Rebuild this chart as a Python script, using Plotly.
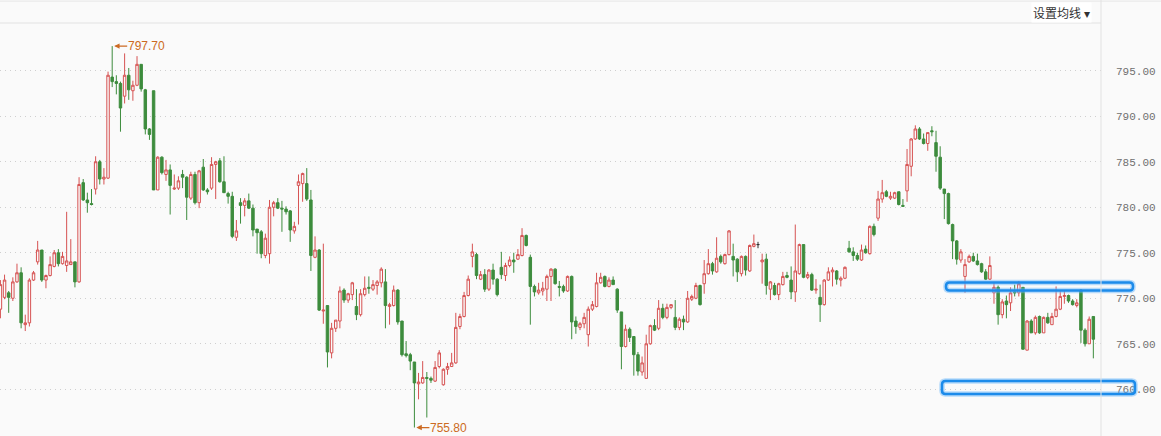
import plotly.graph_objects as go

# OHLC values (one entry per candle, left to right)
open_ = [768.8, 770.1, 770.6, 770.0, 771.8, 772.8, 767.1, 767.3, 772.0, 774.0,
         775.3, 772.0, 772.5, 773.5, 775.0, 773.8, 773.6, 773.7, 774.0, 771.8,
         782.7, 780.8, 780.4, 782.0, 785.0, 783.1, 783.2, 794.3, 793.8, 793.6,
         792.2, 794.5, 792.8, 793.4, 795.7, 792.9, 788.6, 792.8, 781.9, 785.5,
         783.6, 784.1, 782.0, 782.1, 783.6, 783.3, 781.0, 783.6, 780.5, 784.4,
         781.9, 782.1, 784.7, 785.1, 782.8,
         781.5, 781.2, 776.7, 780.5, 780.2, 780.7, 779.9, 777.6, 777.3, 774.7,
         774.9, 780.0, 780.5, 779.9, 779.8, 779.6, 777.4, 782.4, 782.6, 782.6,
         780.8, 774.5, 775.3, 768.6, 769.2, 764.0, 766.7, 767.5, 770.9, 769.8,
         770.4, 769.1, 768.2, 770.4, 771.2, 771.0, 771.4, 771.7, 771.8, 769.1,
         769.2, 770.9, 767.5, 763.9, 763.8, 763.0, 760.6, 760.7, 761.3, 761.2,
         760.9, 762.5,
         760.5, 762.2, 762.5, 762.9, 766.9, 768.0, 770.3, 774.6, 774.8, 772.1,
         772.6, 771.0, 773.1, 772.1, 773.4, 772.5, 773.6, 774.2, 774.3, 774.7,
         776.9, 774.5, 771.3, 770.6, 770.8, 771.0, 772.4, 773.2, 771.3, 771.3,
         770.8, 772.4, 767.5, 766.8, 767.2, 766.0, 768.8, 769.1, 771.7, 772.4,
         771.3, 772.0, 771.0, 768.5, 764.7, 766.6, 765.8, 763.8, 761.9, 761.2,
         765.0, 767.0,
         766.7, 768.9, 767.9, 769.0, 767.9, 766.8, 767.7, 767.4, 769.9, 770.0,
         771.4, 771.6, 772.7, 773.8, 772.9, 774.6, 773.8, 774.8, 774.6, 774.3,
         772.7, 774.6, 773.0, 775.7, 775.9, 774.0, 774.3, 771.0, 771.4, 770.4,
         771.5, 772.5, 772.0, 770.7, 772.7, 775.9, 772.3, 772.6, 770.9, 770.1,
         769.3, 772.0, 772.9, 773.0, 772.0, 772.2, 775.5, 775.1, 774.7, 774.2,
         775.4, 774.9, 777.9,
         778.8, 780.9, 781.7, 781.0, 781.0, 781.7, 780.2, 781.8, 784.5, 787.5,
         788.6, 787.5, 787.0, 788.4, 787.1, 785.5, 782.0, 781.5, 778.1, 776.3,
         774.2, 772.4, 774.0, 774.6, 774.1, 773.8, 772.9, 772.1, 770.6, 771.2,
         768.2, 769.7, 769.5, 770.7, 770.6, 771.2, 764.3, 767.5, 766.2, 768.0,
         766.2, 767.9, 767.1, 768.0, 768.8, 770.2, 770.3, 769.7, 769.2, 770.9,
         766.5, 765.0, 768.0]
high = [772.0, 772.6, 770.8, 772.3, 773.8, 773.4, 768.2, 772.2, 773.0, 776.3,
        775.3, 772.6, 774.6, 775.3, 775.4, 775.1, 779.5, 776.5, 774.0, 783.3,
        783.1, 781.6, 782.0, 785.6, 785.2, 784.3, 794.9, 797.7, 794.5, 793.8,
        796.9, 795.3, 793.9, 796.6, 795.7, 793.0, 788.7, 792.8, 785.6, 785.6,
        785.2, 784.7, 783.6, 783.4, 784.1, 783.4, 783.9, 783.9, 784.1, 785.3,
        782.1, 785.5, 785.1, 785.4, 785.6,
        781.7, 781.7, 778.6, 781.0, 781.0, 781.5, 780.3, 777.6, 777.5, 777.1,
        780.8, 780.7, 781.0, 780.7, 780.1, 779.7, 778.4, 783.6, 783.8, 784.3,
        781.9, 776.8, 775.4, 776.0, 769.2, 767.3, 767.6, 771.3, 771.1, 770.6,
        771.8, 771.0, 771.0, 772.4, 772.4, 772.0, 772.0, 773.4, 773.2, 769.5,
        771.4, 771.0, 767.5, 765.3, 764.0, 763.0, 761.8, 763.1, 761.9, 761.4,
        763.1, 764.3,
        762.3, 762.9, 764.0, 768.4, 768.3, 770.7, 772.5, 776.0, 775.0, 773.0,
        773.2, 773.2, 773.8, 772.2, 775.1, 773.9, 774.6, 775.0, 775.4, 777.7,
        777.0, 774.8, 771.5, 771.7, 771.8, 772.6, 773.3, 773.3, 771.9, 771.5,
        772.5, 772.5, 768.0, 767.4, 768.4, 769.1, 769.7, 772.8, 772.8, 772.5,
        772.3, 772.4, 771.1, 768.5, 767.1, 766.8, 765.8, 764.1, 763.6, 766.0,
        767.1, 767.7,
        769.8, 769.4, 769.4, 769.3, 769.8, 767.9, 768.1, 770.8, 770.4, 771.7,
        771.5, 774.2, 775.4, 774.0, 776.7, 774.8, 774.9, 777.5, 776.0, 774.4,
        774.7, 774.7, 775.9, 777.0, 776.2, 774.9, 774.9, 771.9, 771.7, 771.7,
        772.9, 772.9, 773.5, 778.1, 776.0, 775.9, 772.9, 772.8, 772.1, 771.5,
        772.1, 773.4, 773.4, 773.1, 772.4, 773.5, 776.3, 775.6, 775.0, 775.9,
        775.8, 778.0, 778.2,
        781.8, 783.0, 781.9, 781.7, 781.7, 781.7, 780.9, 786.4, 787.6, 789.0,
        788.8, 788.1, 788.2, 788.9, 788.4, 786.7, 782.0, 781.6, 778.2, 776.4,
        775.4, 774.3, 774.8, 775.0, 774.9, 773.9, 773.2, 774.6, 771.8, 771.4,
        769.9, 770.3, 771.2, 771.5, 771.9, 771.2, 767.6, 767.7, 768.1, 768.1,
        768.0, 768.4, 768.4, 771.3, 770.8, 770.8, 770.4, 769.9, 769.9, 771.0,
        766.7, 768.0, 768.0]
low = [767.8, 769.9, 768.4, 769.7, 771.7, 766.7, 766.4, 766.9, 771.9, 773.7,
       771.8, 771.1, 772.4, 773.4, 773.5, 773.7, 772.9, 773.7, 771.2, 771.7,
       780.7, 779.4, 780.2, 781.4, 782.5, 782.5, 783.1, 793.2, 792.4, 788.3,
       791.4, 791.8, 791.7, 793.3, 792.7, 788.0, 787.4, 781.9, 781.9, 783.6,
       782.9, 779.2, 781.9, 781.9, 782.1, 778.6, 780.8, 780.3, 779.9, 781.8,
       781.4, 781.9, 780.9, 782.7, 781.6,
       780.4, 776.6, 776.3, 778.2, 779.0, 779.8, 776.8, 774.9, 774.4, 774.4,
       773.8, 779.0, 779.8, 777.3, 779.2, 776.2, 777.1, 778.1, 780.6, 780.7,
       773.0, 774.4, 768.6, 767.2, 762.4, 763.4, 766.3, 766.7, 769.5, 769.5,
       769.8, 767.6, 768.0, 770.2, 770.5, 770.8, 770.4, 771.2, 766.7, 767.1,
       769.1, 767.1, 763.6, 763.5, 762.1, 755.8, 758.9, 760.6, 756.9, 760.7,
       760.8, 762.3,
       760.4, 761.6, 762.5, 762.8, 766.6, 767.9, 770.2, 773.4, 772.1, 772.0,
       770.7, 770.8, 771.5, 770.2, 772.1, 771.9, 773.4, 772.8, 774.2, 774.6,
       775.7, 767.1, 770.2, 770.4, 770.3, 769.7, 769.7, 771.5, 770.2, 770.6,
       770.7, 765.5, 766.1, 766.5, 766.7, 764.7, 768.6, 769.0, 771.6, 771.2,
       771.2, 771.5, 768.4, 762.2, 764.6, 765.2, 761.5, 761.5, 761.5, 761.2,
       764.9, 766.4,
       766.5, 767.7, 767.7, 768.8, 766.5, 766.5, 766.5, 767.3, 769.7, 769.9,
       769.2, 770.5, 772.6, 772.6, 772.8, 773.8, 773.7, 774.7, 772.4, 771.8,
       772.4, 772.5, 772.9, 775.6, 775.5, 771.6, 770.4, 769.8, 770.3, 769.8,
       771.4, 772.2, 769.9, 769.6, 772.6, 772.2, 772.1, 770.8, 770.5, 767.4,
       769.2, 771.9, 771.3, 771.5, 771.3, 772.1, 775.0, 774.1, 774.1, 774.1,
       774.9, 774.8, 776.8,
       778.5, 780.5, 781.1, 780.8, 780.9, 780.2, 780.1, 780.6, 783.4, 787.4,
       787.4, 786.9, 786.2, 787.8, 783.9, 781.9, 778.7, 778.1, 774.3, 773.7,
       773.9, 770.6, 773.9, 774.0, 773.6, 772.8, 772.0, 772.0, 769.4, 767.1,
       767.8, 767.8, 768.6, 770.2, 770.2, 764.4, 764.3, 766.2, 766.0, 766.1,
       766.2, 767.2, 767.1, 767.9, 768.7, 769.4, 769.5, 769.2, 769.0, 765.1,
       764.7, 765.0, 763.4]
close = [771.5, 772.0, 770.1, 771.8, 772.8, 767.3, 767.3, 772.0, 772.8, 775.3,
         772.0, 772.5, 773.7, 775.0, 773.8, 774.6, 774.1, 774.0, 771.8, 782.5,
         780.8, 780.5, 780.3, 785.0, 783.1, 783.3, 794.5, 793.8, 793.6, 790.9,
         794.5, 792.9, 793.4, 795.7, 793.0, 788.6, 788.0, 781.9, 785.5, 783.8,
         784.1, 782.4, 782.1, 782.9, 783.3, 781.1, 783.6, 780.5, 784.0, 781.9,
         781.7, 784.7, 785.0, 782.8, 781.6,
         781.2, 776.8, 777.4, 780.2, 780.7, 779.9, 777.5, 777.2, 774.9, 776.6,
         780.0, 780.5, 779.9, 779.8, 779.5, 777.5, 777.9, 782.8, 783.7, 780.9,
         774.7, 775.3, 768.7, 768.7, 764.1, 766.7, 767.6, 770.8, 769.8, 770.5,
         771.7, 768.2, 770.5, 771.1, 771.1, 771.5, 771.8, 773.2, 769.2, 769.3,
         770.9, 767.4, 763.8, 763.7, 763.1, 760.7, 760.8, 761.3, 761.2, 761.0,
         762.4, 764.0,
         762.2, 762.5, 762.9, 766.8, 768.0, 770.3, 772.1, 775.1, 772.5, 772.6,
         771.0, 773.1, 772.1, 770.4, 772.6, 773.6, 774.2, 774.0, 774.8, 776.9,
         775.8, 771.3, 770.7, 770.9, 771.1, 772.4, 773.2, 771.6, 771.2, 770.8,
         772.4, 767.4, 766.9, 767.2, 767.9, 768.8, 769.3, 771.7, 772.3, 771.3,
         772.0, 771.5, 768.7, 764.7, 766.6, 765.7, 763.8, 762.0, 762.9, 765.0,
         767.0, 766.5,
         768.9, 767.9, 769.0, 769.3, 766.8, 767.7, 767.4, 770.0, 770.2, 771.4,
         769.3, 772.7, 773.8, 773.0, 774.4, 774.0, 774.8, 777.4, 774.2, 772.9,
         774.6, 773.1, 775.8, 776.0, 775.9, 774.2, 771.4, 771.8, 770.4, 771.6,
         772.4, 772.3, 770.7, 773.0, 775.9, 772.3, 772.6, 770.9, 771.0, 769.3,
         772.0, 772.9, 773.1, 772.1, 772.2, 773.4, 775.1, 774.7, 774.3, 775.3,
         775.0, 777.9, 777.0,
         780.9, 781.6, 781.2, 781.2, 781.6, 780.3, 780.1, 784.7, 787.5, 788.6,
         787.5, 787.0, 788.2, 788.3, 785.6, 782.1, 781.5, 778.2, 776.3, 774.3,
         775.1, 773.7, 774.6, 774.1, 773.7, 772.9, 772.1, 773.6, 771.2, 768.2,
         769.6, 769.3, 770.6, 770.6, 771.6, 764.4, 767.5, 766.2, 767.9, 766.2,
         767.9, 767.3, 768.0, 768.8, 770.2, 770.3, 769.7, 769.3, 769.5, 766.5,
         765.0, 767.7, 765.5]

y_ticks = [760, 765, 770, 775, 780, 785, 790, 795]
support_levels = [771.3, 760.2]      # blue highlight boxes drawn on the chart
menu_label = "设置均线 ▾"

RED = "#D65252"
GREEN = "#3D8C3D"
BG = "#FAFAFA"
NOTE = "#CC6A22"

idx = list(range(len(open_)))


def subset(cond):
    sel = [i for i in idx if cond(open_[i], close[i])]
    return dict(x=sel, open=[open_[i] for i in sel], high=[high[i] for i in sel],
                low=[low[i] for i in sel], close=[close[i] for i in sel])


fig = go.Figure()
up = subset(lambda o, c: c > o)
dn = subset(lambda o, c: c < o)
flat = subset(lambda o, c: c == o)
fig.add_trace(go.Candlestick(**up, increasing=dict(line=dict(color=RED, width=1), fillcolor=BG),
                             decreasing=dict(line=dict(color=GREEN, width=1), fillcolor=GREEN),
                             whiskerwidth=0, showlegend=False, hoverinfo="skip"))
fig.add_trace(go.Candlestick(**dn, increasing=dict(line=dict(color=RED, width=1), fillcolor=BG),
                             decreasing=dict(line=dict(color=GREEN, width=1), fillcolor=GREEN),
                             whiskerwidth=0, showlegend=False, hoverinfo="skip"))
fig.add_trace(go.Candlestick(**flat, increasing=dict(line=dict(color="#333333", width=1), fillcolor="#333333"),
                             decreasing=dict(line=dict(color="#333333", width=1), fillcolor="#333333"),
                             whiskerwidth=0, showlegend=False, hoverinfo="skip"))

# high / low markers
i_hi = max(idx, key=lambda i: high[i])
i_lo = min(idx, key=lambda i: low[i])
for xi, yv in [(i_hi, high[i_hi]), (i_lo, low[i_lo])]:
    fig.add_annotation(x=xi, y=yv, xref="x", yref="y", text=f"{yv:.2f}",
                       showarrow=True, ax=15, ay=0, axref="pixel", ayref="pixel",
                       xanchor="left", arrowhead=2, arrowsize=0.9, arrowwidth=1.2,
                       arrowcolor=NOTE, standoff=2, borderpad=0,
                       font=dict(family="Liberation Sans", size=12, color=NOTE))

# blue rounded highlight boxes (pixel-sized around each level)
for lvl, (xl, xr, hh) in zip(support_levels, [(946, 1133, 4), (942, 1135, 6.5)]):
    r = 3.5
    path = (f"M {xl + r},{hh} L {xr - r},{hh} Q {xr},{hh} {xr},{hh - r} "
            f"L {xr},{-hh + r} Q {xr},{-hh} {xr - r},{-hh} "
            f"L {xl + r},{-hh} Q {xl},{-hh} {xl},{-hh + r} "
            f"L {xl},{hh - r} Q {xl},{hh} {xl + r},{hh} Z")
    fig.add_shape(type="path", xref="paper", yref="y", xsizemode="pixel", ysizemode="pixel",
                  xanchor=0, yanchor=lvl, path=path,
                  line=dict(color="rgba(100,180,250,0.45)", width=5.5), layer="above")
    fig.add_shape(type="path", xref="paper", yref="y", xsizemode="pixel", ysizemode="pixel",
                  xanchor=0, yanchor=lvl, path=path,
                  line=dict(color="#1C8BEA", width=2.5), layer="above")

# frame lines: header separator, top line, right axis divider
fig.add_shape(type="line", xref="paper", yref="paper", x0=0, x1=1, y0=1, y1=1,
              line=dict(color="#E2E2E2", width=1))
fig.add_shape(type="line", xref="paper", yref="paper", x0=0, x1=1.06, y0=1.053, y1=1.053,
              line=dict(color="#E6E6E6", width=1))
fig.add_shape(type="line", xref="paper", yref="paper", x0=1, x1=1, y0=0, y1=1.06,
              line=dict(color="#E2E2E2", width=1))

fig.add_annotation(xref="paper", yref="paper", x=1092 / 1101, y=1.026, xanchor="right",
                   yanchor="middle", text=menu_label, showarrow=False, bgcolor="#FFFFFF",
                   font=dict(family="Noto Sans CJK SC", size=12, color="#333333"))

fig.update_layout(
    width=1161, height=436,
    margin=dict(l=0, r=60, t=23, b=0),
    paper_bgcolor=BG, plot_bgcolor=BG,
    showlegend=False, boxgap=0.15,
    xaxis=dict(range=[-0.1, 265.85], showgrid=False, showticklabels=False, zeroline=False,
               rangeslider=dict(visible=False), fixedrange=True),
    yaxis=dict(side="right", range=[754.87, 800.24], tickvals=y_ticks, tickformat=".2f",
               showgrid=True, gridcolor="#CFCFCF", griddash="1px,4px", gridwidth=1,
               zeroline=False, ticks="", ticklabelstandoff=14, fixedrange=True,
               tickfont=dict(family="Liberation Mono", size=11, color="#707070")),
)

fig.write_html("out.html", config={"displayModeBar": False},
               post_script="document.body.style.margin='0';document.body.style.background='#FAFAFA';")
